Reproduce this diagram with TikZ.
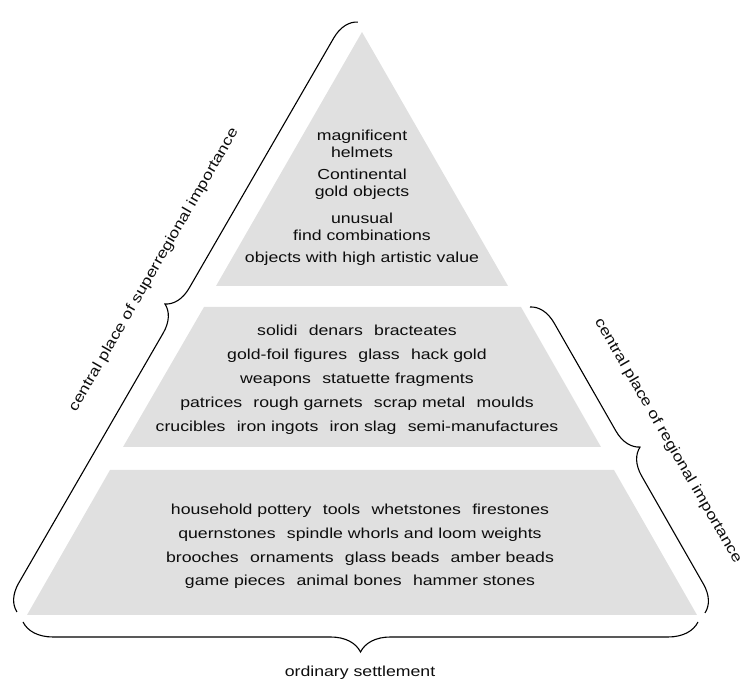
\documentclass[tikz,border=0pt]{standalone}
\usepackage{fontspec}
\setmainfont{Liberation Sans}[FakeStretch=1.22]
\usetikzlibrary{decorations.pathreplacing}
\newcommand\gp{\hspace{0.78em}}
\definecolor{band}{RGB}{224,224,224}
\tikzset{
  bandfill/.style={fill=band,draw=none},
  itemtext/.style={align=center,inner sep=0pt,text=black!95,font=\fontsize{14.5}{17.5}\selectfont},
  bracestyle/.style={draw=black,line width=1.1pt,decorate,decoration={brace,amplitude=#1}},
  sidelabel/.style={inner sep=0pt,text=black!95,font=\fontsize{14.5}{17.5}\selectfont}
}
\begin{document}
\begin{tikzpicture}[x=1pt,y=1pt]
\useasboundingbox (0,0) rectangle (747,692);
% bands
\path[bandfill] (362,660) -- (508,406) -- (216,406) -- cycle;
\path[bandfill] (204,385) -- (521,385) -- (601,245) -- (123,245) -- cycle;
\path[bandfill] (110,222) -- (614,222) -- (697,77) -- (27,77) -- cycle;
% top texts
\node[itemtext] (t1) at (362,548) {magnificent\\helmets};
\node[itemtext] (t2) at (362,507.5) {Continental\\gold objects};
\node[itemtext] (t3) at (362,465) {unusual\\find combinations};
\node[itemtext] (t4) at (362,433.5) {objects with high artistic value};
% middle texts
\node[itemtext,font=\fontsize{14.5}{24}\selectfont] (mid) at (357,312) {solidi\gp denars\gp bracteates\\
gold-foil figures\gp glass\gp hack gold\\
weapons\gp statuette fragments\\
patrices\gp rough garnets\gp scrap metal\gp moulds\\
crucibles\gp iron ingots\gp iron slag\gp semi-manufactures};
% bottom texts
\node[itemtext,font=\fontsize{14.5}{23.7}\selectfont] (bot) at (360,145.5) {household pottery\gp tools\gp whetstones\gp firestones\\
quernstones\gp spindle whorls and loom weights\\
brooches\gp ornaments\gp glass beads\gp amber beads\\
game pieces\gp animal bones\gp hammer stones};
% braces
\coordinate (L1) at (17,80);
\coordinate (L2) at (358,670);
\coordinate (R1) at (530,385);
\coordinate (R2) at (705,79);
\coordinate (B1) at (698,70);
\coordinate (B2) at (23,70);
\draw[bracestyle=26] (L1) -- (L2);
\draw[bracestyle=26] (R1) -- (R2);
\draw[bracestyle=30] (B1) -- (B2);
% labels
\node[sidelabel,rotate=60] (lsup) at (154,422) {central place of superregional importance};
\node[sidelabel,rotate=-60] (lreg) at (668,251) {central place of regional importance};
\node[sidelabel] (lord) at (360,19) {ordinary settlement};
\end{tikzpicture}
\end{document}
